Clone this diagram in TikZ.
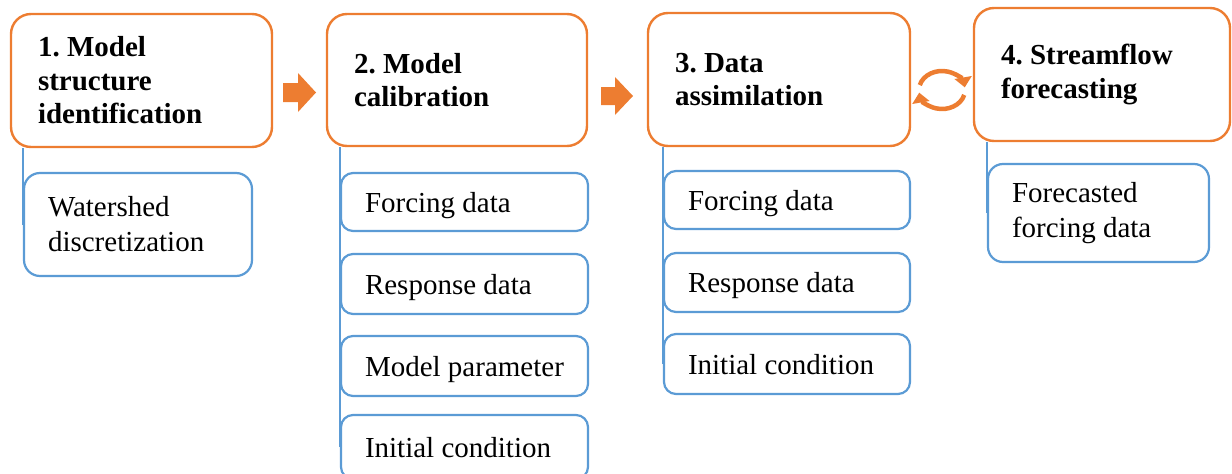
\documentclass[tikz,border=0pt]{standalone}
\usepackage{fontspec}
\setmainfont{Liberation Serif}
\frenchspacing
\usetikzlibrary{arrows.meta,backgrounds}
\definecolor{orangeC}{HTML}{ED7D31}
\definecolor{blueC}{HTML}{5B9BD5}
\tikzset{
  parentbox/.style={draw=orangeC, line width=2.4pt, rounded corners=20pt, fill=white,
    font=\fontsize{29}{33.5}\selectfont\bfseries, align=flush left, inner xsep=27pt, inner ysep=0pt},
  childbox/.style={draw=blueC, line width=2.2pt, rounded corners=12pt, fill=white,
    font=\fontsize{29}{35}\selectfont, align=flush left, inner xsep=24pt, inner ysep=0pt},
  onelinebox/.style={childbox, text depth=0pt},
  treeline/.style={draw=blueC, line width=2.2pt},
  blockarrow/.style={fill=orangeC},
  cyclearrow/.style={draw=orangeC, line width=4.5pt, -{Triangle[length=10pt,width=17pt]}}
}
\begin{document}
\begin{tikzpicture}[x=1pt,y=-1pt]
\useasboundingbox (0,0) rectangle (1232,474);
% parents
\node[parentbox, minimum height=133pt, text width=207pt] (b1) at (141.5,80.5) {1. Model\\structure\\identification};
\node[parentbox, minimum height=132pt, text width=206pt] (b2) at (457,80) {2. Model\\calibration};
\node[parentbox, minimum height=133pt, text width=208pt] (b3) at (779,79.5) {3. Data\\assimilation};
\node[parentbox, minimum height=133pt, text width=202pt] (b4) at (1102,74.5) {4. Streamflow\\forecasting};
% children
\node[childbox, minimum height=103pt, text width=180pt, rounded corners=16pt] (c1) at (138,224.5) {Watershed\\discretization};
\node[onelinebox, minimum height=58pt, text width=199pt] (c2a) at (464.5,202) {Forcing data};
\node[onelinebox, minimum height=60pt, text width=199pt] (c2b) at (464.5,284) {Response data};
\node[onelinebox, minimum height=60pt, text width=199pt] (c2c) at (464.5,366) {Model parameter};
\node[onelinebox, minimum height=64pt, text width=199pt] (c2d) at (464.5,447) {Initial condition};
\node[onelinebox, minimum height=58pt, text width=198pt] (c3a) at (787,200) {Forcing data};
\node[onelinebox, minimum height=59pt, text width=198pt] (c3b) at (787,282.5) {Response data};
\node[onelinebox, minimum height=60pt, text width=198pt] (c3c) at (787,364) {Initial condition};
\node[childbox, minimum height=98pt, text width=173pt, rounded corners=15pt] (c4) at (1098.5,213) {Forecasted\\forcing data};
% tree lines
\begin{pgfonlayer}{background}
\draw[treeline] (b1.south -| c1.west) -- (c1.west);
\draw[treeline] (b2.south -| c2a.west) -- (c2d.west);
\draw[treeline] (b3.south -| c3a.west) -- (c3c.west);
\draw[treeline] (b4.south -| c4.west) -- (c4.west);
\end{pgfonlayer}
% block arrows
\fill[blockarrow] (283,83) -- (298,83) -- (298,73) -- (316,92.5) -- (298,112) -- (298,102) -- (283,102) -- cycle;
\fill[blockarrow] (601,87) -- (615,87) -- (615,77) -- (633,96) -- (615,115) -- (615,105) -- (601,105) -- cycle;
% cycle arrows
\coordinate (cc) at (942,90);
\draw[cyclearrow] ([shift={(195:23 and 19)}]cc) arc[start angle=195, end angle=352, x radius=23, y radius=19];
\draw[cyclearrow] ([shift={(15:23 and 19)}]cc) arc[start angle=15, end angle=172, x radius=23, y radius=19];
\end{tikzpicture}
\end{document}
